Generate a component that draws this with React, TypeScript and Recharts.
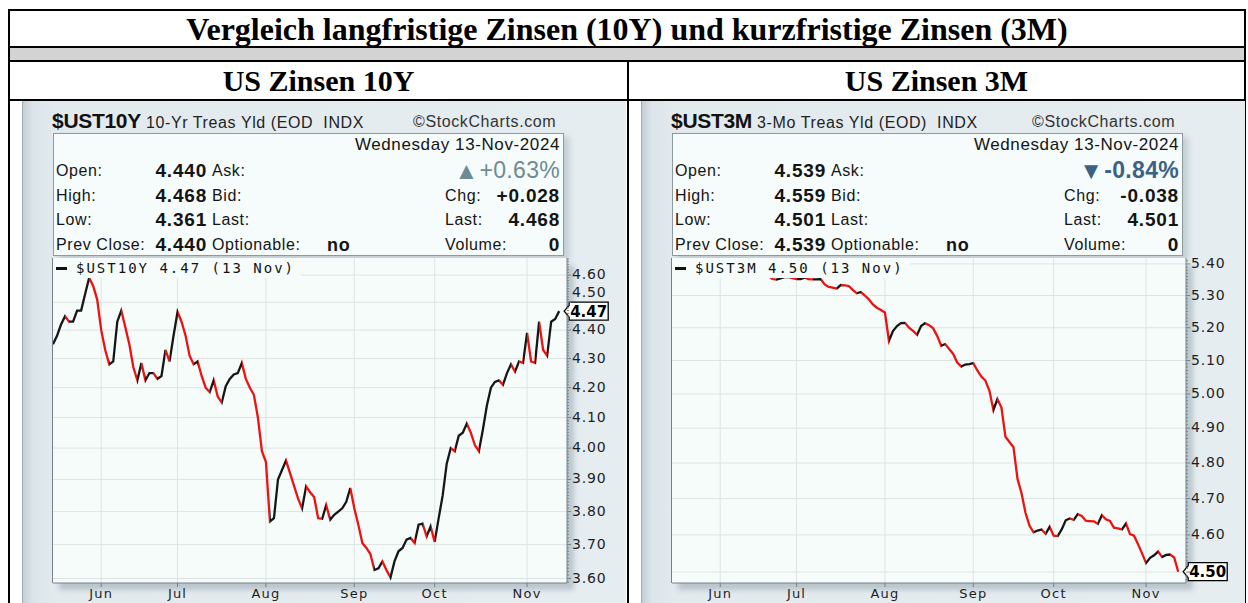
import React from 'react';
import { LineChart, Line, XAxis, YAxis, CartesianGrid, ReferenceDot } from 'recharts';

// ---------- categories: trading days (May 15 – Nov 13, 2024) ----------
const MONTH_DAYS: [string, number[]][] = [
  ['05', [15, 16, 17, 20, 21, 22, 23, 24, 28, 29, 30, 31]],
  ['06', [3, 4, 5, 6, 7, 10, 11, 12, 13, 14, 17, 18, 20, 21, 24, 25, 26, 27, 28]],
  ['07', [1, 2, 3, 5, 8, 9, 10, 11, 12, 15, 16, 17, 18, 19, 22, 23, 24, 25, 26, 29, 30, 31]],
  ['08', [1, 2, 5, 6, 7, 8, 9, 12, 13, 14, 15, 16, 19, 20, 21, 22, 23, 26, 27, 28, 29, 30]],
  ['09', [3, 4, 5, 6, 9, 10, 11, 12, 13, 16, 17, 18, 19, 20, 23, 24, 25, 26, 27, 30]],
  ['10', [1, 2, 3, 4, 7, 8, 9, 10, 11, 14, 15, 16, 17, 18, 21, 22, 23, 24, 25, 28, 29, 30, 31]],
  ['11', [1, 4, 5, 6, 7, 8, 11, 12, 13]],
];
const DATES: string[] = MONTH_DAYS.flatMap(([m, days]) =>
  days.map((d) => `2024-${m}-${String(d).padStart(2, '0')}`)
);

const MONTH_CODES = ['06', '07', '08', '09', '10', '11'];
const MONTH_LABELS = ['Jun', 'Jul', 'Aug', 'Sep', 'Oct', 'Nov'];

// ---------- series values ----------
const UST10Y: number[] = [
  4.35, 4.38, 4.42, 4.45, 4.43, 4.43, 4.47, 4.47, 4.53, 4.59,
  4.56, 4.51, 4.40, 4.33, 4.28, 4.29, 4.43, 4.47, 4.41, 4.35,
  4.27, 4.225, 4.285, 4.225, 4.25, 4.25, 4.23, 4.24, 4.33, 4.29,
  4.38, 4.465, 4.43, 4.38, 4.31, 4.28, 4.29, 4.24, 4.20, 4.185,
  4.225, 4.17, 4.15, 4.205, 4.23, 4.245, 4.25, 4.285, 4.23, 4.20,
  4.176, 4.10, 3.99, 3.955, 3.77, 3.78, 3.90, 3.93, 3.96, 3.92,
  3.88, 3.84, 3.81, 3.878, 3.86, 3.845, 3.78, 3.778, 3.82, 3.775,
  3.79, 3.80, 3.81, 3.83, 3.873, 3.81, 3.76, 3.705, 3.69, 3.672,
  3.625, 3.63, 3.65, 3.625, 3.603, 3.65, 3.68, 3.69, 3.715, 3.72,
  3.705, 3.76, 3.763, 3.725, 3.755, 3.708, 3.78, 3.85, 3.95, 4.00,
  3.99, 4.04, 4.05, 4.08, 4.05, 4.01, 3.99, 4.06, 4.14, 4.20,
  4.22, 4.225, 4.21, 4.25, 4.28, 4.255, 4.29, 4.285, 4.39, 4.29,
  4.285, 4.43, 4.33, 4.31, 4.43, 4.44, 4.468,
];

const UST3M: number[] = [
  5.37, 5.375, 5.38, 5.37, 5.38, 5.372, 5.37, 5.378, 5.37, 5.372,
  5.38, 5.37, 5.372, 5.37, 5.378, 5.37, 5.368, 5.365, 5.37, 5.368,
  5.37, 5.364, 5.368, 5.366, 5.362, 5.352, 5.350, 5.354, 5.358, 5.358,
  5.355, 5.352, 5.352, 5.356, 5.352, 5.351, 5.351, 5.352, 5.335, 5.327,
  5.325, 5.322, 5.333, 5.332, 5.330, 5.318, 5.307, 5.311, 5.300, 5.288,
  5.272, 5.262, 5.255, 5.247, 5.160, 5.190, 5.205, 5.214, 5.215, 5.200,
  5.190, 5.178, 5.205, 5.214, 5.208, 5.198, 5.175, 5.145, 5.150, 5.135,
  5.120, 5.094, 5.082, 5.088, 5.089, 5.092, 5.070, 5.052, 5.040, 5.010,
  4.953, 4.985, 4.960, 4.875, 4.860, 4.845, 4.755, 4.715, 4.660, 4.625,
  4.607, 4.612, 4.615, 4.603, 4.622, 4.598, 4.597, 4.615, 4.640, 4.645,
  4.641, 4.657, 4.652, 4.639, 4.638, 4.637, 4.630, 4.654, 4.643, 4.638,
  4.620, 4.618, 4.615, 4.631, 4.602, 4.598, 4.575, 4.550, 4.524, 4.538,
  4.545, 4.555, 4.540, 4.546, 4.547, 4.539, 4.501,
];

// ---------- tick labels ----------
const TICKS_10Y = [3.6, 3.7, 3.8, 3.9, 4.0, 4.1, 4.2, 4.3, 4.4, 4.5, 4.6];
const TICKS_3M = [4.5, 4.6, 4.7, 4.8, 4.9, 5.0, 5.1, 5.2, 5.3, 5.4];
const DOMAIN_10Y: [number, number] = [3.587, 4.664];
const DOMAIN_3M: [number, number] = [4.471, 5.419];
const X_MAX = 127.94;
const PLOT_H = 325;

// ---------- quote boxes ----------
const INFO_10Y = {
  symbol: '$UST10Y', desc: '10-Yr Treas Yld (EOD  INDX', date: 'Wednesday  13-Nov-2024',
  open: '4.440', high: '4.468', low: '4.361', prevClose: '4.440',
  pct: '+0.63%', up: true, chg: '+0.028', last: '4.468', volume: '0', optionable: 'no',
  legend: '$UST10Y 4.47 (13 Nov)',
};
const INFO_3M = {
  symbol: '$UST3M', desc: '3-Mo Treas Yld (EOD)  INDX', date: 'Wednesday  13-Nov-2024',
  open: '4.539', high: '4.559', low: '4.501', prevClose: '4.539',
  pct: '-0.84%', up: false, chg: '-0.038', last: '4.501', volume: '0', optionable: 'no',
  legend: '$UST3M 4.50 (13 Nov)',
};

const TITLE = 'Vergleich langfristige Zinsen (10Y) und kurzfristige Zinsen (3M)';
const HEAD_LEFT = 'US Zinsen 10Y';
const HEAD_RIGHT = 'US Zinsen 3M';

// ---------- styles ----------
const SANS = '"Liberation Sans", Arial, sans-serif';
const SERIF = '"Liberation Serif", "Times New Roman", serif';
const AXISF = '"DejaVu Sans", sans-serif';
const MONO = '"DejaVu Sans Mono", monospace';
const RED = '#ee1111';
const BLACK = '#161616';
const AXIS_C = '#75828a';
const GRID_C = '#dde4e4';
const PLOT_BG = '#f6fcfa';

const MONTH_IDX = MONTH_CODES.map((m) => DATES.findIndex((d) => d.slice(5, 7) === m));
const LABEL_BY_IDX: Record<number, string> = {};
MONTH_IDX.forEach((idx, k) => { LABEL_BY_IDX[idx] = MONTH_LABELS[k]; });

function minorTicks(domain: [number, number]) {
  const out: number[] = [];
  for (let c = Math.ceil(domain[0] * 100); c <= Math.floor(domain[1] * 100); c++) out.push(c / 100);
  return out;
}

function buildStops(vals: number[]) {
  const n = vals.length - 1;
  const stops: React.ReactElement[] = [];
  for (let k = 0; k < n; k++) {
    const c = vals[k + 1] >= vals[k] ? BLACK : RED;
    stops.push(<stop key={`a${k}`} offset={k / n} stopColor={c} />);
    stops.push(<stop key={`b${k}`} offset={(k + 1) / n} stopColor={c} />);
  }
  return stops;
}

const YTick = (props: any) => {
  const { x, y, payload, lastVal, domain } = props;
  const v: number = payload.value;
  const major = Math.abs(v * 10 - Math.round(v * 10)) < 1e-6;
  // pixel distance from the last-value tag (log scale)
  const pxPerLn = PLOT_H / Math.log(domain[1] / domain[0]);
  const dist = Math.log(v / lastVal) * pxPerLn; // positive => above tag
  let labelY = y - 1;
  let show = major;
  if (major && Math.abs(dist) < 14) {
    if (dist > 3) labelY = y + dist - 19; // sit just above the tag
    else show = false; // fully covered by the tag in the reference
  }
  return (
    <g>
      <line x1={x} x2={x + (major ? 4 : 2)} y1={y} y2={y} stroke={AXIS_C} strokeWidth={1} />
      {show && (
        <text x={x + 5} y={labelY} dy="0.36em" fill="#1e1e1e" fontSize={14} fontFamily={AXISF} letterSpacing={0.8}>
          {v.toFixed(2)}
        </text>
      )}
    </g>
  );
};

const Tag = (props: any) => {
  const { cx, cy, text } = props;
  if (cx == null || cy == null) return null;
  const tip = cx + 5;
  const bx = cx + 10;
  const bw = 39;
  const bh = 18;
  const d = `M${tip},${cy} L${bx},${cy - 6} L${bx},${cy - bh / 2} L${bx + bw},${cy - bh / 2} L${bx + bw},${cy + bh / 2} L${bx},${cy + bh / 2} L${bx},${cy + 6} Z`;
  return (
    <g>
      <path d={d} fill="#ffffff" stroke="#000" strokeWidth={1.3} />
      <text x={bx + bw / 2} y={cy} dy="0.36em" textAnchor="middle" fontWeight="bold" fontSize={15} fontFamily={AXISF} fill="#000">
        {text}
      </text>
    </g>
  );
};

type Info = typeof INFO_10Y;

function QuoteBox({ info }: { info: Info }) {
  const label: React.CSSProperties = { position: 'absolute', fontFamily: SANS, fontSize: 16, letterSpacing: 0.6, color: '#141414', lineHeight: '20px', whiteSpace: 'nowrap' };
  const val: React.CSSProperties = { ...label, fontWeight: 'bold', fontSize: 19, letterSpacing: 0.8, lineHeight: '22px' };
  const rowTops = [27, 52, 76, 101];
  const leftLabels = ['Open:', 'High:', 'Low:', 'Prev Close:'];
  const leftVals = [info.open, info.high, info.low, info.prevClose];
  const midLabels = ['Ask:', 'Bid:', 'Last:', 'Optionable:'];
  const rightLabels = ['', 'Chg:', 'Last:', 'Volume:'];
  const rightVals = ['', info.chg, info.last, info.volume];
  return (
    <div style={{ position: 'absolute', left: 30, top: 32, width: 511, height: 123, boxSizing: 'border-box', border: '1px solid #8d9ba1', background: '#f6fcfb', boxShadow: '5px 4px 6px rgba(90,110,120,0.25)' }}>
      <div style={{ ...label, right: 3, top: 1, fontSize: 17 }}>{info.date}</div>
      {rowTops.map((t, k) => (
        <React.Fragment key={k}>
          <div style={{ ...label, left: 2, top: t }}>{leftLabels[k]}</div>
          <div style={{ ...val, right: 356, top: t - 1 }}>{leftVals[k]}</div>
          <div style={{ ...label, left: 158, top: t }}>{midLabels[k]}</div>
          {rightLabels[k] && <div style={{ ...label, left: 391, top: t }}>{rightLabels[k]}</div>}
          {rightVals[k] && <div style={{ ...val, right: 3, top: t - 1 }}>{rightVals[k]}</div>}
        </React.Fragment>
      ))}
      <div style={{ ...val, left: 273, top: rowTops[3] - 1, fontSize: 18 }}>{info.optionable}</div>
      <div style={{ ...label, right: 3, top: 23, fontSize: 23, lineHeight: '27px', letterSpacing: 0.3, color: info.up ? '#6d8b95' : '#3b6185', fontWeight: info.up ? 'normal' : 'bold', display: 'flex', alignItems: 'center' }}>
        <span style={{ fontSize: 24, marginRight: 1 }}>{info.up ? '\u25B2' : '\u25BC'}</span>{info.pct}
      </div>
    </div>
  );
}

function Panel({ fx, info, values, domain, majors, gradId }: { fx: number; info: Info; values: number[]; domain: [number, number]; majors: number[]; gradId: string }) {
  const data = values.map((v, i) => ({ i, date: DATES[i], v }));
  const last = values.length - 1;
  const minors = minorTicks(domain);
  return (
    <div style={{ position: 'absolute', left: fx, top: 101, width: 604, height: 502, overflow: 'hidden', background: 'linear-gradient(90deg, #c4cfd5 0px, #dbe4e9 10px, #e2eaee 30px, #e5edf1 100%)', borderLeft: '1px solid #9eabb1', boxSizing: 'border-box' }}>
      {/* header */}
      <div style={{ position: 'absolute', left: 29, top: 8, whiteSpace: 'nowrap', display: 'flex', alignItems: 'baseline' }}>
        <span style={{ fontFamily: SANS, fontWeight: 'bold', fontSize: 21, color: '#111', letterSpacing: -0.3 }}>{info.symbol}</span>
        <span style={{ fontFamily: SANS, fontSize: 16, color: '#222', marginLeft: 5, letterSpacing: 0.6, whiteSpace: 'pre' }}>{info.desc}</span>
      </div>
      <div style={{ position: 'absolute', left: 390, top: 12, fontFamily: SANS, fontSize: 16, color: '#333', letterSpacing: 0.6 }}>{'\u00A9StockCharts.com'}</div>
      <QuoteBox info={info} />
      {/* plot background */}
      <div style={{ position: 'absolute', left: 29, top: 157, width: 515, height: PLOT_H, boxSizing: 'border-box', background: PLOT_BG, borderLeft: `1px solid ${AXIS_C}`, boxShadow: '7px 7px 5px rgba(110,130,140,0.35)' }} />
      {/* chart */}
      <div style={{ position: 'absolute', left: 0, top: 155 }}>
        <LineChart width={604} height={347} data={data} margin={{ top: 2, right: 0, bottom: 0, left: 30 }}>
          <defs>
            <linearGradient id={gradId} x1="0" y1="0" x2="1" y2="0">
              {buildStops(values)}
            </linearGradient>
          </defs>
          <CartesianGrid stroke={GRID_C} strokeWidth={1} horizontalValues={majors} verticalValues={MONTH_IDX} />
          <XAxis
            type="number" dataKey="i" domain={[0, X_MAX]} allowDataOverflow ticks={MONTH_IDX} interval={0}
            tickFormatter={(v: number) => LABEL_BY_IDX[v] ?? ''} height={20} tickSize={4} tickMargin={2}
            axisLine={{ stroke: AXIS_C }} tickLine={{ stroke: AXIS_C }}
            tick={{ fill: '#1e1e1e', fontSize: 13, fontFamily: AXISF, letterSpacing: 1.2 }}
          />
          <YAxis
            orientation="right" type="number" scale="log" domain={domain} allowDataOverflow ticks={minors} interval={0}
            tick={<YTick lastVal={values[last]} domain={domain} />} tickLine={false} tickSize={0} tickMargin={0} width={60} axisLine={{ stroke: AXIS_C }}
          />
          <Line type="linear" dataKey="v" stroke={`url(#${gradId})`} strokeWidth={2.3} dot={false} isAnimationActive={false} />
          <ReferenceDot x={last} y={values[last]} r={0} ifOverflow="visible" shape={(p: any) => <Tag {...p} text={values[last].toFixed(2)} />} />
        </LineChart>
      </div>
      {/* legend */}
      <div style={{ position: 'absolute', left: 30, top: 157, height: 20, paddingLeft: 3, paddingRight: 6, background: PLOT_BG, display: 'flex', alignItems: 'center', whiteSpace: 'nowrap' }}>
        <span style={{ display: 'inline-block', width: 11, height: 3, background: '#111', marginRight: 9 }} />
        <span style={{ fontFamily: MONO, fontSize: 14, letterSpacing: 2, color: '#111' }}>{info.legend}</span>
      </div>
    </div>
  );
}

export default function App() {
  const line = (s: React.CSSProperties) => <div style={{ position: 'absolute', background: '#000', ...s }} />;
  return (
    <div style={{ position: 'absolute', left: 0, top: 0, width: 1248, height: 603, overflow: 'hidden', background: '#fff', fontFamily: SANS }}>
      {/* table frame */}
      <div style={{ position: 'absolute', left: 8, top: 9, width: 1238, height: 700, border: '2px solid #000', boxSizing: 'border-box' }} />
      <div style={{ position: 'absolute', left: 10, top: 11, width: 1234, height: 36, display: 'flex', alignItems: 'center', justifyContent: 'center', fontFamily: SERIF, fontWeight: 'bold', fontSize: 32, color: '#000', whiteSpace: 'nowrap' }}>{TITLE}</div>
      {line({ left: 8, top: 46, width: 1238, height: 2 })}
      <div style={{ position: 'absolute', left: 10, top: 48, width: 1234, height: 12, background: '#d3d3d3' }} />
      {line({ left: 8, top: 60, width: 1238, height: 2 })}
      <div style={{ position: 'absolute', left: 10, top: 62, width: 617, height: 37, display: 'flex', alignItems: 'center', justifyContent: 'center', fontFamily: SERIF, fontWeight: 'bold', fontSize: 30, color: '#000' }}>{HEAD_LEFT}</div>
      <div style={{ position: 'absolute', left: 629, top: 62, width: 615, height: 37, display: 'flex', alignItems: 'center', justifyContent: 'center', fontFamily: SERIF, fontWeight: 'bold', fontSize: 30, color: '#000' }}>{HEAD_RIGHT}</div>
      {line({ left: 8, top: 99, width: 1238, height: 2 })}
      <Panel fx={22} info={INFO_10Y} values={UST10Y} domain={DOMAIN_10Y} majors={TICKS_10Y} gradId="g10y" />
      <Panel fx={641} info={INFO_3M} values={UST3M} domain={DOMAIN_3M} majors={TICKS_3M} gradId="g3m" />
      {line({ left: 627, top: 61, width: 2, height: 560 })}
    </div>
  );
}
